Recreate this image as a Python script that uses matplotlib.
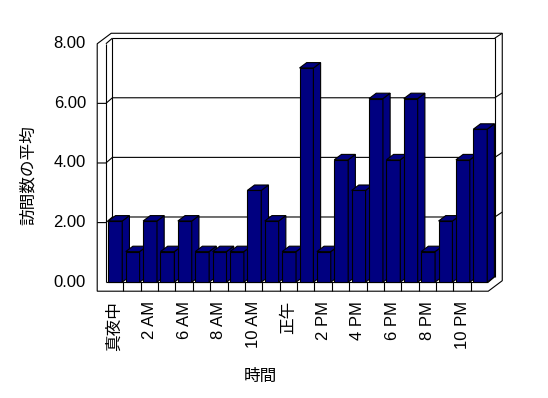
import numpy as np
import matplotlib
matplotlib.use("Agg")
import matplotlib.pyplot as plt
from matplotlib.patches import Polygon

# data
hours = ['真夜中', '1 AM', '2 AM', '3 AM', '6 AM', '7 AM', '8 AM', '9 AM', '10 AM', '11 AM',
         '正午', '1 PM', '2 PM', '3 PM', '4 PM', '5 PM', '6 PM', '7 PM', '8 PM', '9 PM',
         '10 PM', '11 PM']
visits = [2, 1, 2, 1, 2, 1, 1, 1, 3, 2, 1, 7, 1, 4, 3, 6, 4, 6, 1, 2, 4, 5]
yticks = [0, 2, 4, 6, 8]
ylabel = '訪問数の平均'
xlabel = '時間'

plt.rcParams['font.family'] = ['Liberation Sans', 'Noto Sans CJK JP']

# one data unit = one category in x, one visit in y
XU, YU = 17.38, 30.6          # pixels per unit
X0, Y0 = 105.9, 282.2         # pixel position of (0, 0)
W = 0.974                     # wall scale relative to bars
d1 = (6.5 / XU, 5.6 / YU)     # floor depth up to back wall
d2 = (14.0 / XU, 10.5 / YU)   # depth including wall thickness
bd = (7.2 / XU, 5.4 / YU)     # bar depth
fl = -9.0 / YU                # floor thickness
navy = '#000080'
lw = 0.8

fig = plt.figure(figsize=(5.48, 3.98), dpi=100)
ax = fig.add_axes([0, 0, 1, 1])
ax.set_xlim(-X0 / XU, (548 - X0) / XU)
ax.set_ylim((Y0 - 398) / YU, Y0 / YU)
ax.axis('off')

n = len(visits)
top = yticks[-1] * W

# outline of walls and floor
outline = [(-0.5, fl), (-0.5, top), (-0.5 + d2[0], top + d2[1]),
           (n + d2[0], top + d2[1]), (n + d2[0], fl + d2[1]), (n, fl)]
ax.add_patch(Polygon(outline, closed=True, facecolor='white', edgecolor='black', lw=lw, zorder=1))

def seg(xs, ys):
    ax.plot(xs, ys, color='black', lw=lw, zorder=2, solid_capstyle='butt')

seg([0, 0], [0, top])
seg([0, d1[0]], [top, top + d1[1]])
seg([d1[0], d1[0]], [d1[1], top + d1[1]])
seg([d1[0], n + d1[0]], [top + d1[1], top + d1[1]])
seg([n + d1[0], n + d1[0]], [d1[1], top + d1[1]])
seg([n + d1[0], n + d2[0]], [top + d1[1], top + d2[1]])
seg([0, n], [0, 0])
seg([n, n + d1[0]], [0, d1[1]])
for k in range(1, n):
    seg([k, k], [fl, 0])
for v in yticks[1:-1]:
    y = v * W
    seg([-0.5, 0, d1[0], n + d1[0], n + d2[0]], [y, y, y + d1[1], y + d1[1], y + d2[1]])

# bars, left to right so each covers the side of the one before
x = np.arange(n)
bars = ax.bar(x + 0.14, visits, width=0.8, align='edge', color=navy, edgecolor='black', lw=lw)
for i, (b, v) in enumerate(zip(bars, visits)):
    z = 3 + i
    b.set_zorder(z)
    l, r = i + 0.14, i + 0.94
    side = [(r, 0), (r + bd[0], bd[1]), (r + bd[0], v + bd[1]), (r, v)]
    cap = [(l, v), (r, v), (r + bd[0], v + bd[1]), (l + bd[0], v + bd[1])]
    for pts in (side, cap):
        ax.add_patch(Polygon(pts, closed=True, facecolor=navy, edgecolor='black', lw=lw, zorder=z))

# text
for v in yticks:
    ax.text(-1.15, v * W, f'{v:.2f}', ha='right', va='center', fontsize=12)
for i in range(0, n, 2):
    ax.text(i + 0.5, -0.62, hours[i], rotation=90, ha='center', va='top', fontsize=12)
ax.text((28 - X0) / XU, (Y0 - 175) / YU, ylabel, rotation=90, ha='center', va='center', fontsize=12)
ax.text((260 - X0) / XU, (Y0 - 376) / YU, xlabel, ha='center', va='center', fontsize=12)

fig.savefig('out.png', dpi=100, facecolor='white')
